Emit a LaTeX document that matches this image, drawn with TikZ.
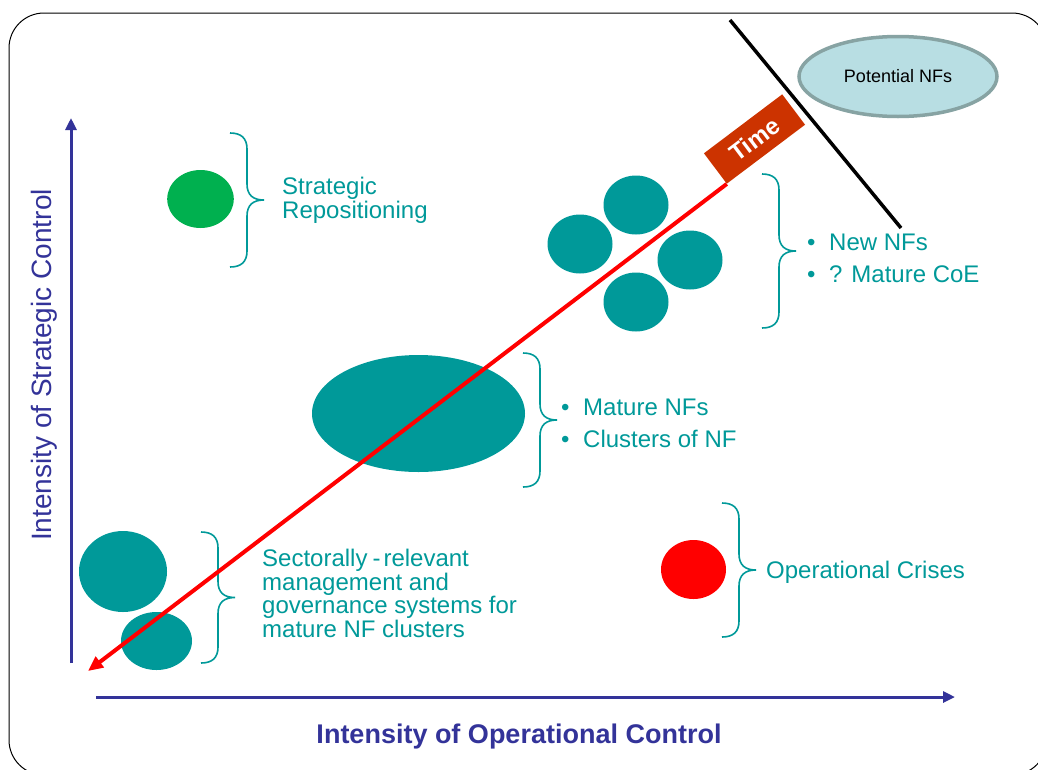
\documentclass[tikz,border=0pt]{standalone}
\usepackage{fontspec}
\setmainfont{Liberation Sans}
\usetikzlibrary{arrows.meta,shapes.geometric}
\definecolor{AxisClr}{rgb}{0.2,0.2,0.6}
\definecolor{BlobClr}{rgb}{0,0.6,0.6}
\definecolor{GrowClr}{rgb}{0,0.69,0.31}
\definecolor{TimeClr}{rgb}{0.8,0.2,0}
\definecolor{PotFillClr}{rgb}{0.72,0.87,0.89}
\definecolor{PotLineClr}{rgb}{0.53,0.64,0.64}

% curly brace opening to the right: x of the ends, top y, bottom y
\newcommand{\BraceAt}[3]{%
  \draw[brace line] (#1,#2) .. controls ({#1+11},#2) and ({#1+17},{#2+5}) .. ({#1+17},{#2+16})
    -- ({#1+17},{(#2+#3)/2-16}) .. controls ({#1+17},{(#2+#3)/2-5}) and ({#1+23},{(#2+#3)/2}) .. ({#1+34},{(#2+#3)/2})
    .. controls ({#1+23},{(#2+#3)/2}) and ({#1+17},{(#2+#3)/2+5}) .. ({#1+17},{(#2+#3)/2+16})
    -- ({#1+17},{#3-16}) .. controls ({#1+17},{#3-5}) and ({#1+11},#3) .. (#1,#3);}
\newcommand{\bul}{\makebox[22pt][l]{\textbullet}}

\begin{document}
\begin{tikzpicture}[x=1pt,y=-1pt,
  axis/.style={AxisClr,line width=3pt,-{Triangle[length=12pt,width=11pt]}},
  brace line/.style={BlobClr,line width=1.6pt},
  blob/.style={fill=BlobClr},
  label text/.style={text=BlobClr,align=left,inner sep=0pt},
  time box/.style={fill=TimeClr,text=white,font=\bfseries\fontsize{24}{24}\selectfont,
    rotate=37,minimum width=98,minimum height=38,inner sep=0pt}]
\clip (0,0) rectangle (1038,769);

% frame
\draw[line width=1pt,rounded corners=35] (9,13) rectangle (1047,775);

% axes
\coordinate (yfoot) at (71,663);
\coordinate (ytop) at (71,118);
\coordinate (xfoot) at (96,697);
\coordinate (xtip) at (955,697);
\draw[axis] (yfoot) -- (ytop);
\draw[axis] (xfoot) -- (xtip);
\node[rotate=90,text=AxisClr,inner sep=0pt,font=\fontsize{28}{28}\selectfont] (ylab) at (44,365) {Intensity of Strategic Control};
\node[text=AxisClr,inner sep=0pt,font=\bfseries\fontsize{27}{27}\selectfont] (xlab) at (519,737) {Intensity of Operational Control};

% groups of NFs
\fill[GrowClr] (200.5,199) ellipse (33.3 and 29);
\fill[blob] (580,244) ellipse (32.5 and 29.5);
\fill[blob] (636,205) ellipse (32.5 and 29.5);
\fill[blob] (690,260) ellipse (32.5 and 29.5);
\fill[blob] (636,302) ellipse (32.5 and 29.5);
\fill[blob] (418.5,413.5) ellipse (106.5 and 58.5);
\fill[blob] (123,571.5) ellipse (44 and 40.5);
\fill[blob] (156.5,641) ellipse (35.5 and 29);
\fill[red] (693.5,569.5) ellipse (32.5 and 29.5);

% braces
\BraceAt{230}{133}{267}
\BraceAt{762}{174}{328}
\BraceAt{523}{353}{487}
\BraceAt{201}{532}{663}
\BraceAt{722}{503}{637}

% time arrow
\node[time box] (time) at (754.5,139) {Time};
\coordinate (origin) at (88,671);
\draw[red,line width=4pt,-{Triangle[length=15pt,width=13pt]}] (time.south west) -- (origin);

% cut-off line and potential NFs
\coordinate (cutA) at (730,20);
\coordinate (cutB) at (901,228);
\draw[line width=3.5pt] (cutA) -- (cutB);
\node[ellipse,draw=PotLineClr,line width=3.5pt,fill=PotFillClr,minimum width=198,minimum height=80,
  inner sep=0pt,font=\fontsize{18}{18}\selectfont] (potential) at (898,76.5) {Potential NFs};

% labels (base anchor sits on the last line)
\node[label text,anchor=base west,font=\fontsize{24}{20}\selectfont] (strat) at (282,218) {Strategic\\Repositioning};
\node[label text,anchor=base west,font=\fontsize{24}{31.5}\selectfont] (newnf) at (807,282) {\bul New NFs\\\bul ? Mature CoE};
\node[label text,anchor=base west,font=\fontsize{24}{32}\selectfont] (mature) at (561,447) {\bul Mature NFs\\\bul Clusters of NF};
\node[label text,anchor=base west,font=\fontsize{24}{21.5}\selectfont] (sector) at (262,637) {Sectorally\hspace{5pt}-\hspace{3pt}relevant\\management and\\governance systems for\\mature NF clusters};
\node[label text,anchor=base west,font=\fontsize{24}{24}\selectfont] (crisis) at (766,578) {Operational Crises};
\end{tikzpicture}
\end{document}
